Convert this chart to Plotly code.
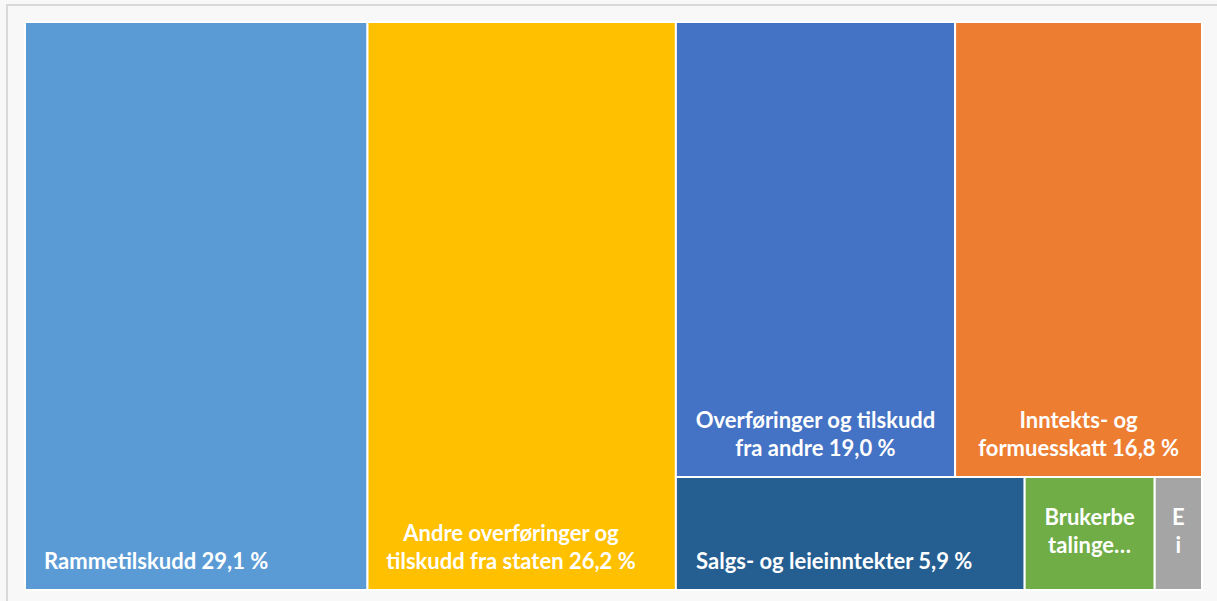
import plotly.graph_objects as go

labels = [
    "Rammetilskudd",
    "Andre overføringer og tilskudd fra staten",
    "Overføringer og tilskudd fra andre",
    "Inntekts- og formuesskatt",
    "Salgs- og leieinntekter",
    "Brukerbetalinger",
    "Eiendomsskatt",
]
values = [29.1, 26.2, 19.0, 16.8, 5.9, 2.2, 0.8]
NB = "\u00a0"
LIFT = "<br><span style='baseline-shift:16px'>" + NB + "</span>"
display_text = [
    "Rammetilskudd 29,1 %" + NB * 15 + LIFT,
    "Andre overføringer og" + NB * 4 + "<br>tilskudd fra staten 26,2 %" + NB * 4 + LIFT,
    "Overføringer og tilskudd<br>fra andre 19,0 %" + LIFT,
    "Inntekts- og<br>formuesskatt 16,8 %" + LIFT,
    "Salgs- og leieinntekter 5,9 %" + NB * 6 + LIFT,
    "Brukerbe<br>talinge…<br>" + NB,
    "E<br>i<br>" + NB,
]
colors = ["#5B9BD5", "#FFC000", "#4472C4", "#ED7D31", "#255E91", "#70AD47", "#A5A5A5"]

fig = go.Figure(go.Treemap(
    labels=labels,
    parents=[""] * len(labels),
    values=values,
    text=display_text,
    texttemplate="%{text}",
    hovertemplate="%{label}: %{value:.1f} %<extra></extra>",
    textposition="bottom center",
    textfont=dict(family="Lato", size=22, color="white", weight="bold"),
    marker=dict(colors=colors, line=dict(color="white", width=2),
                pad=dict(t=0, l=0, r=0, b=0)),
    pathbar=dict(visible=False),
    root=dict(color="rgba(0,0,0,0)"),
    sort=True,
    tiling=dict(packing="squarify", squarifyratio=1, pad=0),
))

fig.update_layout(
    width=1217, height=601,
    margin=dict(l=25, r=15, t=22, b=11),
    paper_bgcolor="#f8f8f8",
    uniformtext=dict(minsize=22, mode="show"),
    shapes=[dict(type="rect", xref="paper", yref="paper", x0=-0.0153, x1=1.0195, y0=-0.035, y1=1.0299,
                 line=dict(color="#d9d9d9", width=2), fillcolor="rgba(0,0,0,0)", layer="below")],
)

fig.write_html("out.html", config={"displayModeBar": False},
               post_script="document.body.style.margin='0';document.body.style.overflow='hidden';")
